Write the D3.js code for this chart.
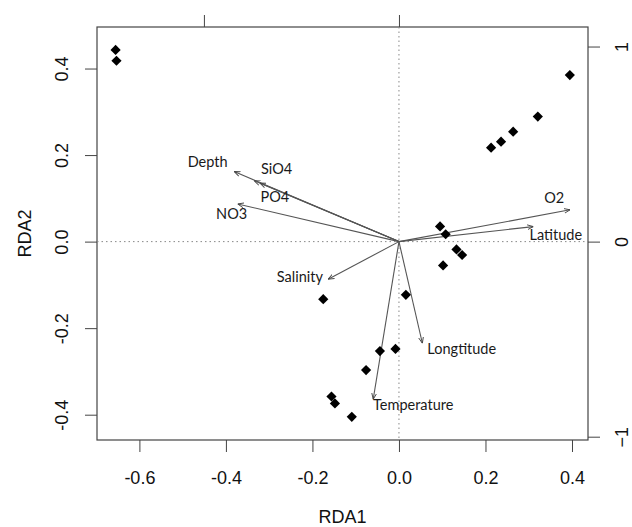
<!DOCTYPE html>
<html>
<head>
<meta charset="utf-8">
<script src="https://cdn.jsdelivr.net/npm/d3@7"></script>
<style>
	body { margin: 0; background: #fff; }
	svg text { font-family: 'Liberation Sans', Arial, sans-serif; }
	.vlabel { font-family: Lato, 'Open Sans', sans-serif; font-size: 14.5px; fill: #1a1a1a; }
</style>
</head>
<body>
<div id="wrapper"></div>
<script>
// site scores (RDA1, RDA2)
const siteX = [ -0.655, -0.653, 0.395, 0.321, 0.264, 0.236, 0.213, 0.095, 0.108, 0.133,
	0.146, 0.102, 0.016, -0.175, -0.008, -0.044, -0.076, -0.156, -0.148, -0.109 ];
const siteY = [ 0.443, 0.418, 0.385, 0.289, 0.254, 0.231, 0.217, 0.035, 0.017, -0.018,
	-0.031, -0.055, -0.123, -0.133, -0.248, -0.253, -0.297, -0.358, -0.374, -0.405 ];

// environmental vectors (biplot scale, right/top axes)
const envNames = [ 'Depth', 'SiO4', 'PO4', 'NO3', 'O2', 'Latitude', 'Salinity', 'Longtitude', 'Temperature' ];
const envX = [ -0.845, -0.742, -0.713, -0.827, 0.877, 0.689, -0.363, 0.12, -0.132 ];
const envY = [ 0.359, 0.312, 0.3, 0.193, 0.163, 0.077, -0.193, -0.521, -0.808 ];
// where the labels were put (biplot scale)
const labelX = [ -0.981, -0.627, -0.636, -0.858, 0.796, 0.804, -0.508, 0.322, 0.073 ];
const labelY = [ 0.406, 0.372, 0.228, 0.142, 0.223, 0.034, -0.183, -0.548, -0.839 ];

const xTicks = [ -0.6, -0.4, -0.2, 0.0, 0.2, 0.4 ];
const yTicks = [ -0.4, -0.2, 0.0, 0.2, 0.4 ];
const topTicks = [ -1, 0 ];
const rightTicks = [ -1, 0, 1 ];

const dimensions = {
	width: 632,
	height: 527,
	margin: { top: 27, right: 44, bottom: 87, left: 97 }
};
dimensions.boundedWidth = dimensions.width - dimensions.margin.left - dimensions.margin.right;
dimensions.boundedHeight = dimensions.height - dimensions.margin.top - dimensions.margin.bottom;

const mult = 2.218; // site units per biplot unit

const x = d3.scaleLinear().domain([ -0.698, 0.437 ]).range([ 0, dimensions.boundedWidth ]);
const y = d3.scaleLinear().domain([ -0.4585, 0.496 ]).range([ dimensions.boundedHeight, 0 ]);
const xb = d3.scaleLinear().domain(x.domain().map((v) => v * mult)).range(x.range());
const yb = d3.scaleLinear().domain(y.domain().map((v) => v * mult)).range(y.range());

const svg = d3.select('#wrapper').append('svg').attr('width', dimensions.width).attr('height', dimensions.height);
const bounds = svg.append('g').attr('transform', `translate(${dimensions.margin.left}, ${dimensions.margin.top})`);

const axisColor = '#444';
const fmt = (d) => d.toFixed(1);

function styleAxis(g) {
	g.select('.domain').remove();
	g.selectAll('.tick line').attr('stroke', axisColor);
	g.selectAll('.tick text').attr('fill', '#111').style('font-size', '18px');
}

// bottom
bounds.append('g')
	.attr('transform', `translate(0, ${dimensions.boundedHeight})`)
	.call(d3.axisBottom(x).tickValues(xTicks).tickFormat(fmt).tickSize(12).tickPadding(19))
	.call(styleAxis);

// left (labels parallel to axis)
const yAxis = bounds.append('g')
	.call(d3.axisLeft(y).tickValues(yTicks).tickFormat(fmt).tickSize(12))
	.call(styleAxis);
yAxis.selectAll('.tick text')
	.attr('x', null).attr('dy', null)
	.attr('text-anchor', 'middle')
	.attr('transform', 'translate(-35, 0) rotate(-90)')
	.attr('dy', '0.35em');

// top (labels fall outside the picture, only ticks show)
bounds.append('g')
	.call(d3.axisTop(xb).tickValues(topTicks).tickFormat('').tickSize(12))
	.call(styleAxis);

// right
const rAxis = bounds.append('g')
	.attr('transform', `translate(${dimensions.boundedWidth}, 0)`)
	.call(d3.axisRight(yb).tickValues(rightTicks).tickFormat(d3.format('d')).tickSize(12))
	.call(styleAxis);
rAxis.selectAll('.tick text')
	.attr('x', null).attr('dy', null)
	.attr('text-anchor', 'middle')
	.attr('transform', 'translate(34, 0) rotate(-90)')
	.attr('dy', '0.35em');

// box
bounds.append('rect')
	.attr('width', dimensions.boundedWidth)
	.attr('height', dimensions.boundedHeight)
	.attr('fill', 'none')
	.attr('stroke', axisColor)
	.attr('stroke-width', 1.2);

// dotted zero lines
bounds.append('line')
	.attr('x1', x(0)).attr('x2', x(0)).attr('y1', 0).attr('y2', dimensions.boundedHeight)
	.attr('stroke', '#888').attr('stroke-dasharray', '1.5,3');
bounds.append('line')
	.attr('x1', 0).attr('x2', dimensions.boundedWidth).attr('y1', y(0)).attr('y2', y(0))
	.attr('stroke', '#888').attr('stroke-dasharray', '1.5,3');

// axis titles
svg.append('text')
	.attr('x', dimensions.margin.left + dimensions.boundedWidth / 2)
	.attr('y', 523)
	.attr('text-anchor', 'middle')
	.style('font-size', '18px')
	.attr('fill', '#111')
	.text('RDA1');
svg.append('text')
	.attr('transform', `translate(25, ${dimensions.margin.top + dimensions.boundedHeight / 2}) rotate(-90)`)
	.attr('dy', '0.35em')
	.attr('text-anchor', 'middle')
	.style('font-size', '18px')
	.attr('fill', '#111')
	.text('RDA2');

// arrowhead
svg.append('defs').append('marker')
	.attr('id', 'head')
	.attr('viewBox', '0 0 10 10')
	.attr('refX', 10).attr('refY', 5)
	.attr('markerWidth', 6).attr('markerHeight', 6)
	.attr('markerUnits', 'userSpaceOnUse')
	.attr('orient', 'auto')
	.append('path')
	.attr('d', 'M0,1 L10,5 L0,9')
	.attr('fill', 'none')
	.attr('stroke', '#444')
	.attr('stroke-width', 1.5);

const env = envNames.map((name, i) => ({ name: name, x: envX[i], y: envY[i], lx: labelX[i], ly: labelY[i] }));

bounds.selectAll('line.vec')
	.data(env)
	.join('line')
	.attr('class', 'vec')
	.attr('x1', xb(0)).attr('y1', yb(0))
	.attr('x2', (d) => xb(d.x)).attr('y2', (d) => yb(d.y))
	.attr('stroke', '#555')
	.attr('stroke-width', 1.1)
	.attr('marker-end', 'url(#head)');

bounds.selectAll('text.vlabel')
	.data(env)
	.join('text')
	.attr('class', 'vlabel')
	.attr('x', (d) => xb(d.lx))
	.attr('y', (d) => yb(d.ly))
	.attr('dy', '0.35em')
	.attr('text-anchor', 'middle')
	.text((d) => d.name);

// sites
const sites = siteX.map((v, i) => ({ x: v, y: siteY[i] }));
bounds.selectAll('path.site')
	.data(sites)
	.join('path')
	.attr('class', 'site')
	.attr('d', d3.symbol().type(d3.symbolSquare).size(52))
	.attr('transform', (d) => `translate(${x(d.x)}, ${y(d.y)}) rotate(45)`)
	.attr('fill', '#000');
</script>
</body>
</html>
